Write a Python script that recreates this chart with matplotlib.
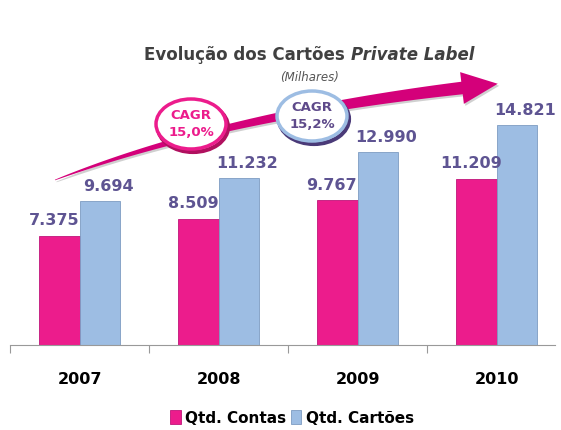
import matplotlib
matplotlib.use("Agg")
import matplotlib.pyplot as plt
import numpy as np
from matplotlib.patches import Ellipse, Polygon

years = ["2007", "2008", "2009", "2010"]
contas = [7375, 8509, 9767, 11209]
cartoes = [9694, 11232, 12990, 14821]
contas_labels = ["7.375", "8.509", "9.767", "11.209"]
cartoes_labels = ["9.694", "11.232", "12.990", "14.821"]
series_names = ["Qtd. Contas", "Qtd. Cartões"]
cagr_labels = ["CAGR\n15,0%", "CAGR\n15,2%"]

pink = "#EC1C8C"
blue = "#9DBDE3"
label_col = "#5E5492"

W, H = 561, 430
fig = plt.figure(figsize=(W / 100, H / 100), dpi=100)
ax = fig.add_axes([10 / W, (H - 345) / H, 545 / W, 285 / H])

x = np.arange(len(years))
bw = 0.29
b1 = ax.bar(x - bw / 2, contas, bw, color=pink, edgecolor="#C0157A", linewidth=0.6)
b2 = ax.bar(x + bw / 2, cartoes, bw, color=blue, edgecolor="#7E9CC2", linewidth=0.6)

ax.set_xlim(-0.5, 3.42)
ax.set_ylim(0, 19200)
for s in ["top", "right", "left"]:
    ax.spines[s].set_visible(False)
ax.spines["bottom"].set_color("#999999")
ax.set_yticks([])
ax.set_xticks([-0.5, 0.5, 1.5, 2.5])
ax.set_xticklabels([])
ax.tick_params(axis="x", length=6, color="#999999", direction="out")
for xi, yr in zip(x, years):
    ax.text(xi, -2300, yr, ha="center", va="center", fontsize=11.5,
            fontweight="bold", color="black")

for xi, v, lab in zip(x, contas, contas_labels):
    ax.text(xi - bw / 2 - 0.04, v + 500, lab, ha="center", va="bottom",
            fontsize=11.5, fontweight="bold", color=label_col)
for xi, v, lab in zip(x, cartoes, cartoes_labels):
    ax.text(xi + bw / 2 + 0.06, v + 500, lab, ha="center", va="bottom",
            fontsize=11.5, fontweight="bold", color=label_col)

# Title
fig.text(351 / W, 1 - 55 / H, "Evolução dos Cartões ", ha="right", va="center",
         fontsize=12, fontweight="bold", color="#404040")
fig.text(351 / W, 1 - 55 / H, "Private Label", ha="left", va="center",
         fontsize=12, fontweight="bold", fontstyle="italic", color="#404040")
fig.text(310 / W, 1 - 77 / H, "(Milhares)", ha="center", va="center",
         fontsize=8.5, fontstyle="italic", color="#555555")

def fx(px):
    return px / W
def fy(py):
    return 1 - py / H

# Curved arrow (decoration)
t = np.linspace(0, 1, 80)
p0 = np.array([55, 180]); p1 = np.array([222, 116]); p2 = np.array([462, 88])
cx = (1 - t) ** 2 * p0[0] + 2 * (1 - t) * t * p1[0] + t ** 2 * p2[0]
cy = (1 - t) ** 2 * p0[1] + 2 * (1 - t) * t * p1[1] + t ** 2 * p2[1]
dx = np.gradient(cx); dy = np.gradient(cy)
nrm = np.hypot(dx, dy)
nx, ny = -dy / nrm, dx / nrm
half = 0.3 + 6.0 * t ** 0.8
upper = np.column_stack([cx + nx * half, cy + ny * half])
lower = np.column_stack([cx - nx * half, cy - ny * half])
tipdir = np.array([dx[-1], dy[-1]]) / nrm[-1]
tn = np.array([nx[-1], ny[-1]])
head = [p2 + tn * 16, p2 + tipdir * 36, p2 - tn * 16]
pts = np.vstack([upper, head, lower[::-1]])
shadow = pts + np.array([1.5, 2])
fig.patches.append(Polygon(np.column_stack([fx(shadow[:, 0]), fy(shadow[:, 1])]),
                           closed=True, transform=fig.transFigure,
                           facecolor="#D0D0D0", edgecolor="none", zorder=4))
fig.patches.append(Polygon(np.column_stack([fx(pts[:, 0]), fy(pts[:, 1])]),
                           closed=True, transform=fig.transFigure,
                           facecolor="#D4007A", edgecolor="none", zorder=5))

# CAGR ellipses
def ellipse(cxp, cyp, ec, tc, txt, shadow):
    sh = Ellipse((fx(cxp + 2), fy(cyp + 3)), 70 / W, 50 / H, transform=fig.transFigure,
                 facecolor="none", edgecolor=shadow, linewidth=3, zorder=6)
    fig.patches.append(sh)
    e = Ellipse((fx(cxp), fy(cyp)), 70 / W, 50 / H, transform=fig.transFigure,
                facecolor="white", edgecolor=ec, linewidth=2.5, zorder=7)
    fig.patches.append(e)
    fig.text(fx(cxp), fy(cyp), txt, ha="center", va="center", fontsize=9.5,
             fontweight="bold", color=tc, zorder=8, linespacing=1.35)

ellipse(191, 124, "#EC1C8C", "#EC1C8C", cagr_labels[0], "#B0105F")
ellipse(312, 116, "#9DBDE3", "#5E4A8A", cagr_labels[1], "#4A3A78")

# Legend
fig.legend([b1, b2], series_names, loc="center", bbox_to_anchor=(292 / W, 1 - 418 / H),
           ncol=2, frameon=False, handlelength=0.7, handleheight=1.0,
           handletextpad=0.3, columnspacing=0.3,
           prop={"weight": "bold", "size": 11})

fig.savefig("out.png", dpi=100)
